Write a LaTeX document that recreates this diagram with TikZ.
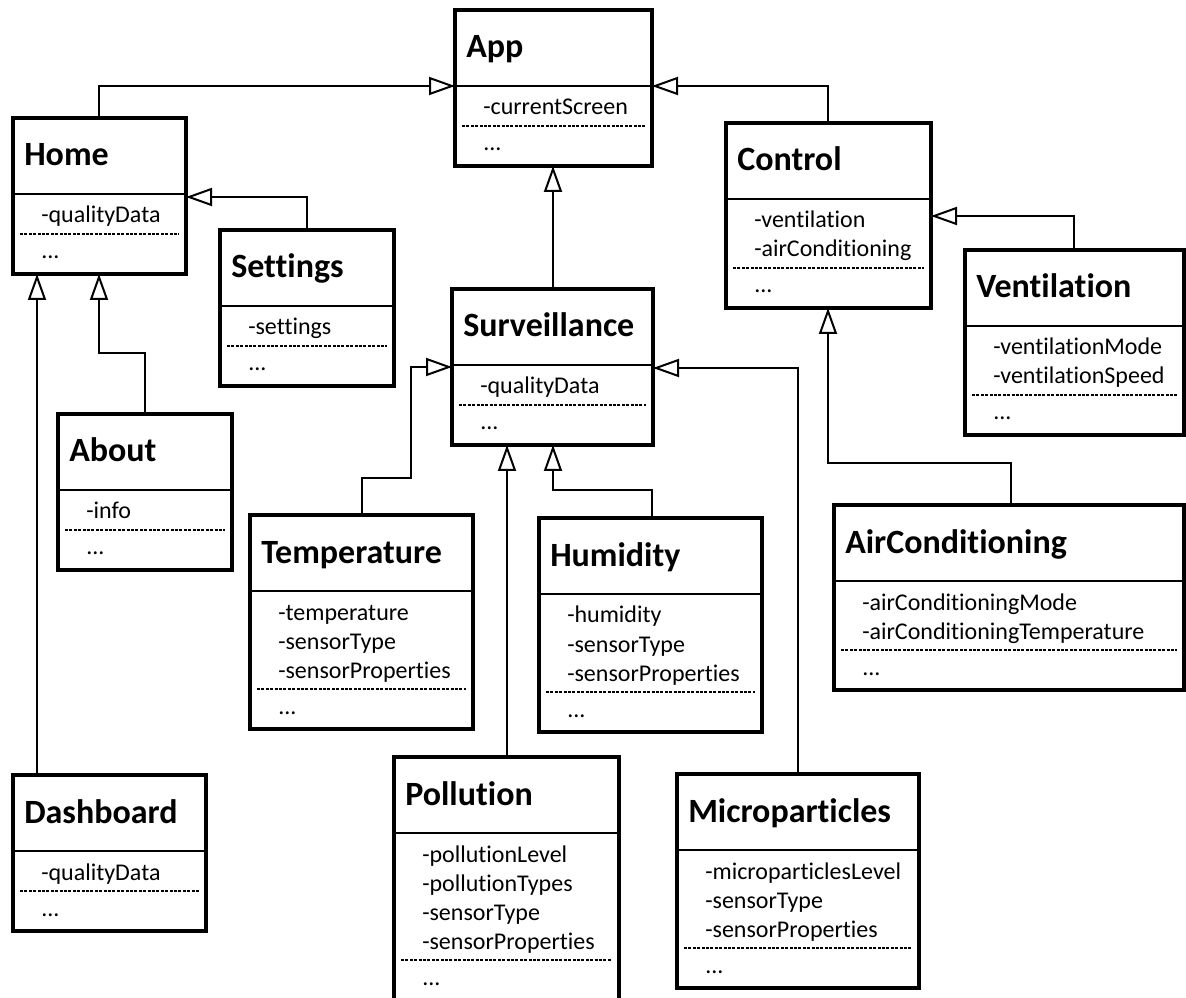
\documentclass[tikz,border=0pt]{standalone}
\usepackage{fontspec}
\setmainfont{Carlito}[Ligatures=NoCommon]
\usetikzlibrary{arrows.meta}
\tikzset{
  classbox/.style={draw, line width=2.5pt, rectangle, inner sep=0pt, outer sep=0pt, anchor=north west, fill=white},
  titletext/.style={anchor=base west, inner sep=0pt, font=\fontsize{25.5}{30}\selectfont\bfseries},
  attrtext/.style={anchor=base west, inner sep=0pt, font=\fontsize{18}{21}\selectfont},
  sepline/.style={line width=2.2pt},
  dashline/.style={line width=0.9pt, dash pattern=on 2.2pt off 1.1pt},
  inh/.style={line width=1.5pt, -{Triangle[open, length=19.5pt, width=13.5pt, line width=1.5pt]}},
}
\newcommand{\umlclass}[6]{%
  \gdef\nattr{0}%
  \foreach \a [count=\i] in {#6} {\xdef\nattr{\i}}%
  \pgfmathsetmacro{\sepy}{#3+76}%
  \pgfmathsetmacro{\dashy}{#3+76+29*\nattr+11}%
  \pgfmathsetmacro{\boty}{\dashy+40}%
  \pgfmathsetmacro{\rgtx}{#2+#4}%
  \pgfmathsetmacro{\hgt}{(\boty-#3)*0.75}%
  \pgfmathsetmacro{\wdt}{#4*0.75}%
  \node[classbox, minimum width=\wdt pt, minimum height=\hgt pt] (#1) at (#2,#3) {};
  \coordinate (#1-sw) at (#2,\sepy);
  \coordinate (#1-se) at (\rgtx,\sepy);
  \draw[sepline] (#1-sw) -- (#1-se);
  \node[titletext] (#1-title) at (#2+11,\sepy-28) {#5};
  \foreach \a [count=\i] in {#6} {\node[attrtext] (#1-a\i) at (#2+28,\sepy+29*\i) {\a};}
  \draw[dashline] (#2+7,\dashy) -- (\rgtx-7,\dashy);
  \node[attrtext] (#1-more) at (#2+28,\dashy+25) {...};
}
\begin{document}
\begin{tikzpicture}[x=0.75pt, y=-0.75pt]
\useasboundingbox (0,0) rectangle (1186,998);
\clip (0,0) rectangle (1186,998);

\umlclass{app}{455}{10}{197}{App}{-currentScreen}
\umlclass{home}{13}{118}{173}{Home}{-qualityData}
\umlclass{control}{726}{123}{205}{Control}{-ventilation,-airConditioning}
\umlclass{settings}{220}{230}{174}{Settings}{-settings}
\umlclass{vent}{965}{250}{219}{Ventilation}{-ventilationMode,-ventilationSpeed}
\umlclass{surv}{452}{289}{201}{Surveillance}{-qualityData}
\umlclass{about}{58}{414}{174}{About}{-info}
\umlclass{air}{834}{505}{350}{AirConditioning}{-airConditioningMode,-airConditioningTemperature}
\umlclass{temp}{250}{515}{223}{Temperature}{-temperature,-sensorType,-sensorProperties}
\umlclass{hum}{539}{518}{223}{Humidity}{-humidity,-sensorType,-sensorProperties}
\umlclass{dashb}{13}{775}{193}{Dashboard}{-qualityData}
\umlclass{poll}{394}{757}{225}{Pollution}{-pollutionLevel,-pollutionTypes,-sensorType,-sensorProperties}
\umlclass{micro}{677}{774}{242}{Microparticles}{-microparticlesLevel,-sensorType,-sensorProperties}

% connectors
\draw[inh] (99,0 |- home.north) |- (app-sw);
\draw[inh] (828,0 |- control.north) |- (app-se);
\draw[inh] (553,0 |- surv.north) -- (553,0 |- app.south);
\draw[inh] (307,0 |- settings.north) |- (home.east |- 0,197);
\draw[inh] (145,0 |- about.north) -- (145,353) -| (99,0 |- home.south);
\draw[inh] (37,0 |- dashb.north) -- (37,0 |- home.south);
\draw[inh] (1074,0 |- vent.north) |- (control.east |- 0,216);
\draw[inh] (1011,0 |- air.north) -- (1011,463) -| (828,0 |- control.south);
\draw[inh] (362,0 |- temp.north) -- (362,478) -| (411,367) -- (surv.west |- 0,367);
\draw[inh] (652,0 |- hum.north) -- (652,490) -| (553,0 |- surv.south);
\draw[inh] (507,0 |- poll.north) -- (507,0 |- surv.south);
\draw[inh] (798,0 |- micro.north) |- (surv.east |- 0,368);
\end{tikzpicture}
\end{document}
